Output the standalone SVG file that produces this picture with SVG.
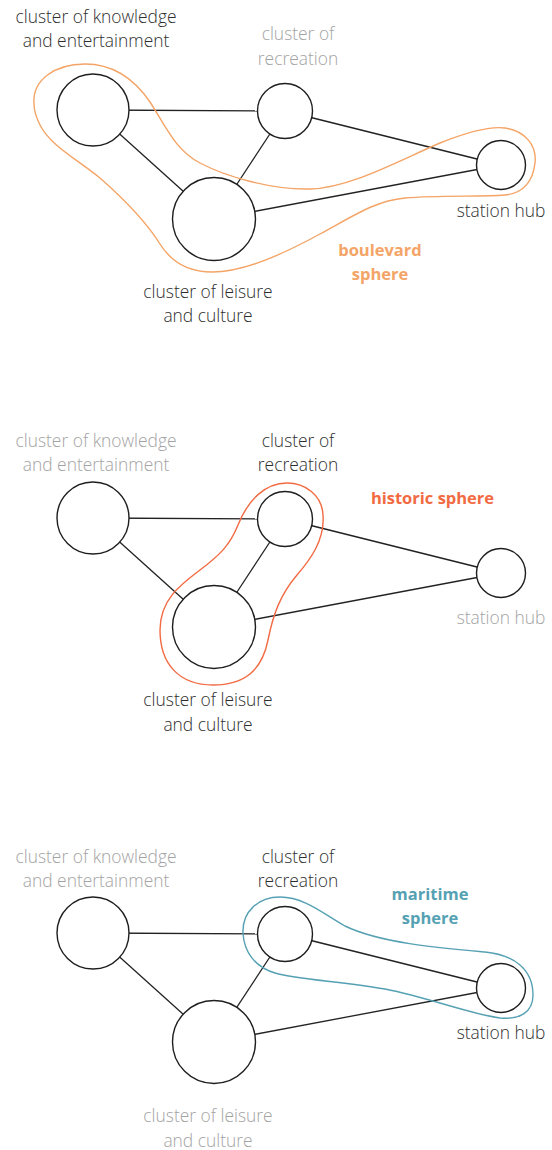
<svg xmlns="http://www.w3.org/2000/svg" width="552" height="1150" viewBox="0 0 552 1150">
<style>
.bg{fill:#ffffff}
.node{fill:#ffffff;stroke:#1e1e1e;stroke-width:1.4}
.edge{stroke:#222222;stroke-width:1.3;fill:none}
.lbl{font-family:"Open Sans","Segoe UI","Noto Sans",sans-serif;font-size:17.4px;font-weight:300;text-anchor:middle}
.dark{fill:#2e2e2e}
.grey{fill:#a3a3a3}
.sph{font-family:"Open Sans","Noto Sans",sans-serif;font-size:16.5px;font-weight:bold;text-anchor:middle}
.blob{fill:none;stroke-width:1.4}
</style>
<rect class="bg" x="0" y="0" width="552" height="1150"/>

<!-- Panel 1 -->
<g id="p1-connectors">
<line class="edge" x1="93" y1="110" x2="285" y2="111"/>
<line class="edge" x1="93" y1="110" x2="214" y2="219"/>
<line class="edge" x1="285" y1="111" x2="214" y2="219"/>
<line class="edge" x1="285" y1="111" x2="501" y2="165"/>
<line class="edge" x1="214" y1="219" x2="501" y2="165"/>
</g>
<g id="p1-knowledge">
<circle class="node" cx="93" cy="110" r="36"/>
<text class="lbl dark" x="96" y="22.5">cluster of knowledge</text>
<text class="lbl dark" x="96" y="46.5">and entertainment</text>
</g>
<g id="p1-recreation">
<circle class="node" cx="285" cy="111" r="27.5"/>
<text class="lbl grey" x="298" y="40">cluster of</text>
<text class="lbl grey" x="298" y="64.5">recreation</text>
</g>
<g id="p1-leisure">
<circle class="node" cx="214" cy="219" r="41.5"/>
<text class="lbl dark" x="208" y="297.5">cluster of leisure</text>
<text class="lbl dark" x="208" y="322">and culture</text>
</g>
<g id="p1-station">
<circle class="node" cx="501" cy="165" r="24.5"/>
<text class="lbl dark" x="501" y="217">station hub</text>
</g>
<g id="p1-boulevard-sphere">
<path class="blob" stroke="#f4a466" d="M 34,104 C 32,80 55,64 85,64 C 115,64 135,80 150,102 C 165,125 175,150 200,163 C 225,176 270,190 310,189 C 350,188 400,160 440,143 C 470,131 490,126 505,128 C 525,131 537,145 535,163 C 533,180 525,193 505,195 C 480,197 440,195 405,198 C 375,201 355,215 320,234 C 285,253 245,272 212,272 C 185,272 170,260 160,244 C 145,220 125,200 100,178 C 75,158 50,145 40,125 C 36,117 34,110 34,104 Z"/>
<text class="sph" fill="#f4a466" x="380" y="255.5">boulevard</text>
<text class="sph" fill="#f4a466" x="380" y="279.5">sphere</text>
</g>

<!-- Panel 2 -->
<g id="p2-connectors">
<line class="edge" x1="93" y1="518" x2="285" y2="519"/>
<line class="edge" x1="93" y1="518" x2="214" y2="627"/>
<line class="edge" x1="285" y1="519" x2="214" y2="627"/>
<line class="edge" x1="285" y1="519" x2="501" y2="573"/>
<line class="edge" x1="214" y1="627" x2="501" y2="573"/>
</g>
<g id="p2-knowledge">
<circle class="node" cx="93" cy="518" r="36"/>
<text class="lbl grey" x="96" y="446.5">cluster of knowledge</text>
<text class="lbl grey" x="96" y="471">and entertainment</text>
</g>
<g id="p2-recreation">
<circle class="node" cx="285" cy="519" r="27.5"/>
<text class="lbl dark" x="298" y="446.5">cluster of</text>
<text class="lbl dark" x="298" y="471">recreation</text>
</g>
<g id="p2-leisure">
<circle class="node" cx="214" cy="627" r="41.5"/>
<text class="lbl dark" x="208" y="706">cluster of leisure</text>
<text class="lbl dark" x="208" y="731">and culture</text>
</g>
<g id="p2-station">
<circle class="node" cx="501" cy="573" r="24.5"/>
<text class="lbl grey" x="501" y="624">station hub</text>
</g>
<g id="p2-historic-sphere">
<path class="blob" stroke="#f26a42" d="M 287,483 C 305,483 322,495 323,515 C 325,540 310,560 297,575 C 280,595 273,615 268,640 C 262,670 245,685 213,685 C 180,685 160,665 160,630 C 160,600 180,585 200,570 C 220,555 230,545 238,525 C 248,500 265,483 287,483 Z"/>
<text class="sph" fill="#f26a42" x="432.5" y="504">historic sphere</text>
</g>

<!-- Panel 3 -->
<g id="p3-connectors">
<line class="edge" x1="93" y1="933" x2="285" y2="934"/>
<line class="edge" x1="93" y1="933" x2="214" y2="1042"/>
<line class="edge" x1="285" y1="934" x2="214" y2="1042"/>
<line class="edge" x1="285" y1="934" x2="501" y2="988"/>
<line class="edge" x1="214" y1="1042" x2="501" y2="988"/>
</g>
<g id="p3-knowledge">
<circle class="node" cx="93" cy="933" r="36"/>
<text class="lbl grey" x="96" y="862.5">cluster of knowledge</text>
<text class="lbl grey" x="96" y="887">and entertainment</text>
</g>
<g id="p3-recreation">
<circle class="node" cx="285" cy="934" r="27.5"/>
<text class="lbl dark" x="298" y="862.5">cluster of</text>
<text class="lbl dark" x="298" y="887">recreation</text>
</g>
<g id="p3-leisure">
<circle class="node" cx="214" cy="1042" r="41.5"/>
<text class="lbl grey" x="208" y="1122">cluster of leisure</text>
<text class="lbl grey" x="208" y="1147">and culture</text>
</g>
<g id="p3-station">
<circle class="node" cx="501" cy="988" r="24.5"/>
<text class="lbl dark" x="501" y="1039">station hub</text>
</g>
<g id="p3-maritime-sphere">
<path class="blob" stroke="#55a1b3" d="M 243,933 C 242,912 258,897 280,897 C 305,897 325,915 345,926 C 380,943 440,948 485,952 C 515,955 533,970 533,995 C 533,1012 520,1020 500,1018 C 470,1014 430,998 385,989 C 340,981 300,980 275,973 C 255,967 244,952 243,933 Z"/>
<text class="sph" fill="#55a1b3" x="430" y="900">maritime</text>
<text class="sph" fill="#55a1b3" x="430" y="924">sphere</text>
</g>
</svg>
